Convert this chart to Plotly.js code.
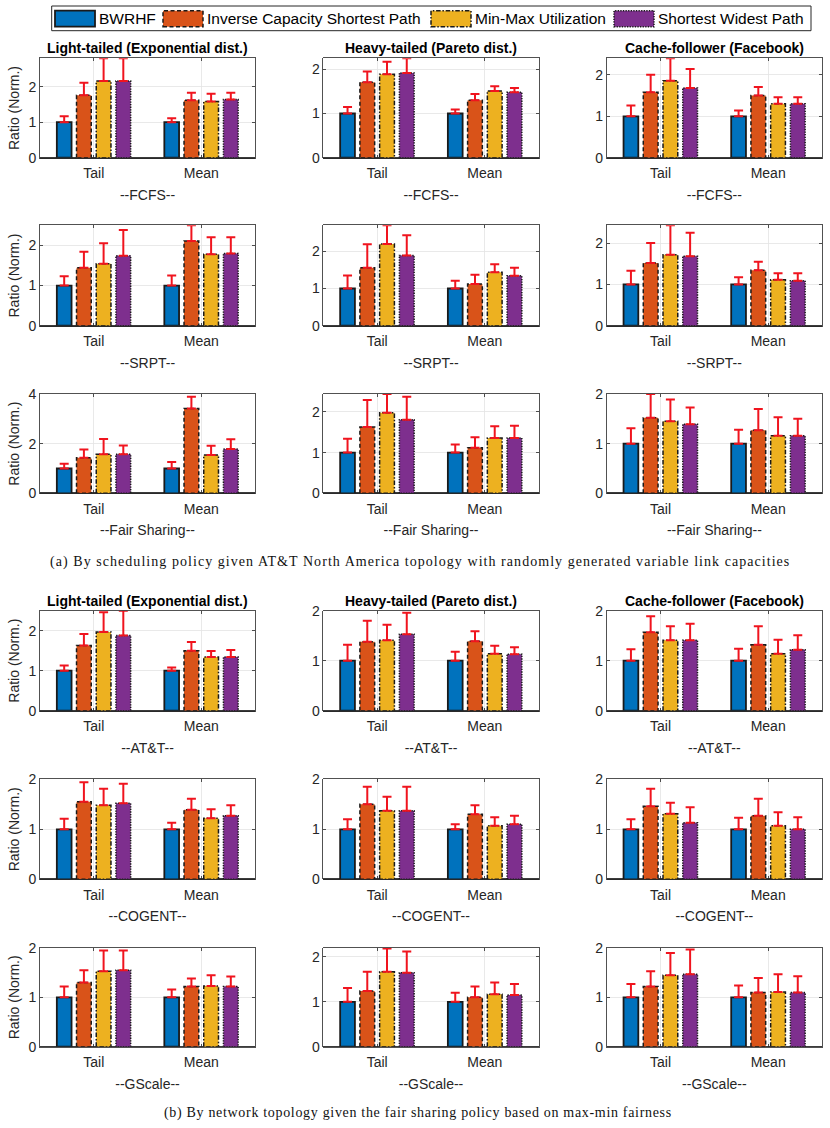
<!DOCTYPE html>
<html>
<head>
<meta charset="utf-8">
<script src="https://cdn.plot.ly/plotly-3.0.1.min.js"></script>
<style>
html, body { margin: 0; padding: 0; background: #ffffff; }
#chart { width: 830px; height: 1128px; }
</style>
</head>
<body>
<div id="chart"></div>
<script>
// ---------------- DATA ----------------
const categories = ['Tail', 'Mean'];
const seriesNames = ['BWRHF', 'Inverse Capacity Shortest Path', 'Min-Max Utilization', 'Shortest Widest Path'];
const columnTitles = ['Light-tailed (Exponential dist.)', 'Heavy-tailed (Pareto dist.)', 'Cache-follower (Facebook)'];
const rowLabelsA = ['--FCFS--', '--SRPT--', '--Fair Sharing--'];
const rowLabelsB = ['--AT&T--', '--COGENT--', '--GScale--'];
const captionA = '(a) By scheduling policy given AT&T North America topology with randomly generated variable link capacities';
const captionB = '(b) By network topology given the fair sharing policy based on max-min fairness';

// values: [series][Tail, Mean]; tops: upper end of the error bar
const fcfsLightVal = [[1.00, 1.00], [1.76, 1.62], [2.16, 1.58], [2.16, 1.64]];
const fcfsLightTop = [[1.17, 1.11], [2.11, 1.83], [2.80, 1.80], [2.80, 1.83]];
const fcfsHeavyVal = [[1.00, 1.00], [1.71, 1.30], [1.89, 1.51], [1.92, 1.48]];
const fcfsHeavyTop = [[1.15, 1.09], [1.95, 1.44], [2.17, 1.62], [2.25, 1.58]];
const fcfsCacheVal = [[1.00, 1.00], [1.58, 1.50], [1.86, 1.30], [1.68, 1.30]];
const fcfsCacheTop = [[1.26, 1.14], [2.00, 1.71], [2.40, 1.46], [2.14, 1.46]];

const srptLightVal = [[1.00, 1.00], [1.44, 2.11], [1.54, 1.78], [1.74, 1.80]];
const srptLightTop = [[1.23, 1.25], [1.84, 2.50], [2.05, 2.20], [2.38, 2.20]];
const srptHeavyVal = [[1.00, 1.00], [1.56, 1.12], [2.20, 1.44], [1.89, 1.34]];
const srptHeavyTop = [[1.35, 1.21], [2.19, 1.37], [2.70, 1.65], [2.43, 1.56]];
const srptCacheVal = [[1.00, 1.00], [1.52, 1.34], [1.72, 1.11], [1.68, 1.09]];
const srptCacheTop = [[1.33, 1.17], [2.00, 1.55], [2.43, 1.27], [2.25, 1.27]];

const fairLightVal = [[1.00, 1.00], [1.43, 3.42], [1.57, 1.54], [1.57, 1.78]];
const fairLightTop = [[1.19, 1.26], [1.76, 3.89], [2.19, 1.92], [1.93, 2.18]];
const fairHeavyVal = [[1.00, 1.00], [1.63, 1.12], [1.98, 1.36], [1.81, 1.36]];
const fairHeavyTop = [[1.34, 1.20], [2.29, 1.38], [2.44, 1.65], [2.37, 1.66]];
const fairCacheVal = [[1.00, 1.00], [1.52, 1.27], [1.45, 1.16], [1.39, 1.16]];
const fairCacheTop = [[1.31, 1.28], [2.00, 1.70], [1.89, 1.53], [1.73, 1.50]];

const attLightVal = [[1.00, 1.00], [1.63, 1.50], [1.97, 1.34], [1.88, 1.34]];
const attLightTop = [[1.13, 1.08], [1.92, 1.72], [2.46, 1.49], [2.50, 1.52]];
const attHeavyVal = [[1.00, 1.00], [1.38, 1.39], [1.41, 1.14], [1.53, 1.13]];
const attHeavyTop = [[1.32, 1.18], [1.80, 1.59], [1.72, 1.30], [1.96, 1.27]];
const attCacheVal = [[1.00, 1.00], [1.57, 1.32], [1.41, 1.14], [1.41, 1.22]];
const attCacheTop = [[1.23, 1.24], [1.89, 1.69], [1.69, 1.42], [1.74, 1.51]];

const cogentLightVal = [[1.00, 1.00], [1.55, 1.39], [1.48, 1.22], [1.52, 1.27]];
const cogentLightTop = [[1.21, 1.13], [1.94, 1.61], [1.81, 1.40], [1.91, 1.48]];
const cogentHeavyVal = [[1.00, 1.00], [1.50, 1.30], [1.37, 1.07], [1.37, 1.10]];
const cogentHeavyTop = [[1.20, 1.10], [1.85, 1.48], [1.65, 1.24], [1.85, 1.27]];
const cogentCacheVal = [[1.00, 1.00], [1.46, 1.27], [1.31, 1.07], [1.13, 1.00]];
const cogentCacheTop = [[1.20, 1.23], [1.81, 1.61], [1.53, 1.34], [1.44, 1.24]];

const gscaleLightVal = [[1.00, 1.00], [1.30, 1.22], [1.53, 1.23], [1.55, 1.22]];
const gscaleLightTop = [[1.22, 1.16], [1.55, 1.38], [1.95, 1.45], [1.95, 1.42]];
const gscaleHeavyVal = [[1.00, 1.00], [1.24, 1.10], [1.67, 1.17], [1.65, 1.15]];
const gscaleHeavyTop = [[1.31, 1.20], [1.67, 1.34], [2.19, 1.43], [2.12, 1.40]];
const gscaleCacheVal = [[1.00, 1.00], [1.22, 1.10], [1.45, 1.11], [1.47, 1.10]];
const gscaleCacheTop = [[1.27, 1.24], [1.53, 1.39], [1.90, 1.47], [1.97, 1.43]];

// ---------------- LAYOUT / STYLE ----------------
const W = 830, H = 1128;
const FONT = 'Liberation Sans, Arial, Helvetica, sans-serif';
const SERIF = 'Liberation Serif, Times New Roman, serif';
const AXC = '#262626';
const seriesColors = ['#0072BD', '#D95319', '#EDB120', '#7E2F8E'];
const edgeDash = ['solid', '4px,2.5px', '4.5px,1.8px,1.5px,1.8px', '1.3px,1.3px'];
const errColor = '#f0141e';

const rowLabels = rowLabelsA.concat(rowLabelsB);
const panelVals = [
  [fcfsLightVal, fcfsHeavyVal, fcfsCacheVal],
  [srptLightVal, srptHeavyVal, srptCacheVal],
  [fairLightVal, fairHeavyVal, fairCacheVal],
  [attLightVal, attHeavyVal, attCacheVal],
  [cogentLightVal, cogentHeavyVal, cogentCacheVal],
  [gscaleLightVal, gscaleHeavyVal, gscaleCacheVal]
];
const panelTops = [
  [fcfsLightTop, fcfsHeavyTop, fcfsCacheTop],
  [srptLightTop, srptHeavyTop, srptCacheTop],
  [fairLightTop, fairHeavyTop, fairCacheTop],
  [attLightTop, attHeavyTop, attCacheTop],
  [cogentLightTop, cogentHeavyTop, cogentCacheTop],
  [gscaleLightTop, gscaleHeavyTop, gscaleCacheTop]
];
const yMax = [[2.8, 2.25, 2.4], [2.5, 2.7, 2.43], [4, 2.44, 2], [2.5, 2, 2], [2, 2, 2], [2, 2.2, 2]];
const yDtick = [[1, 1, 1], [1, 1, 1], [2, 1, 1], [1, 1, 1], [1, 1, 1], [1, 1, 1]];

// pixel boxes of the plot areas
const colX = [[40, 255], [323.3, 538.7], [606.7, 822]];
const rowY = [[58.3, 157.7], [225.3, 325.7], [394, 493.3], [610.7, 710.7], [779.3, 879.3], [948, 1046.7]];
const titleY = [47.7, 600.7];

const SLOT = 0.1833, BARW = 0.137;
function barOffset(k) { return -2 * SLOT + k * SLOT + (SLOT - BARW) / 2; }
const catPos = categories.map((c, i) => i + 1);

const traces = [];
const layout = {
  width: W, height: H,
  margin: { l: 0, r: 0, t: 0, b: 0, autoexpand: false },
  paper_bgcolor: '#ffffff', plot_bgcolor: '#ffffff',
  showlegend: false, barmode: 'overlay',
  font: { family: FONT, size: 14, color: AXC },
  annotations: [], shapes: []
};

const axisCommon = {
  showline: true, linecolor: AXC, linewidth: 0.8, mirror: 'ticks',
  ticks: 'inside', ticklen: 3, tickwidth: 0.8, tickcolor: AXC,
  showgrid: true, gridcolor: '#e4e4e4', gridwidth: 0.8,
  tickfont: { family: FONT, size: 14, color: AXC },
  fixedrange: true
};

let idx = 0;
for (let r = 0; r < 6; r++) {
  for (let c = 0; c < 3; c++) {
    idx++;
    const xa = idx === 1 ? 'x' : 'x' + idx;
    const ya = idx === 1 ? 'y' : 'y' + idx;
    const xk = idx === 1 ? 'xaxis' : 'xaxis' + idx;
    const yk = idx === 1 ? 'yaxis' : 'yaxis' + idx;
    layout[xk] = Object.assign({}, axisCommon, {
      domain: [colX[c][0] / W, colX[c][1] / W], anchor: ya,
      range: [0.5, 2.5], tickvals: catPos, ticktext: categories, zeroline: false,
      ticklabelstandoff: 3,
      title: { text: rowLabels[r], font: { family: FONT, size: 14, color: AXC }, standoff: 9 }
    });
    layout[yk] = Object.assign({}, axisCommon, {
      domain: [1 - rowY[r][1] / H, 1 - rowY[r][0] / H], anchor: xa,
      range: [0, yMax[r][c]], dtick: yDtick[r][c], tick0: 0,
      zeroline: true, zerolinecolor: '#3c3c3c', zerolinewidth: 1.6
    });
    if (c === 0) {
      layout[yk].title = { text: 'Ratio (Norm.)', font: { family: FONT, size: 14, color: AXC }, standoff: 5 };
    }
    const vals = panelVals[r][c], tops = panelTops[r][c];
    // bars
    for (let k = 0; k < 4; k++) {
      traces.push({
        type: 'bar', name: seriesNames[k], x: catPos, y: vals[k],
        xaxis: xa, yaxis: ya, offset: barOffset(k), width: BARW,
        marker: { color: seriesColors[k], line: k === 0 ? { color: '#1a1a1a', width: 1.8 } : { width: 0 } },
        hoverinfo: 'name+y'
      });
    }
    // dashed edges
    for (let k = 1; k < 4; k++) {
      const ex = [], ey = [];
      catPos.forEach((p, j) => {
        const x0 = p + barOffset(k), x1 = x0 + BARW, v = vals[k][j];
        ex.push(x0, x0, x1, x1, x0, null);
        ey.push(0, v, v, 0, 0, null);
      });
      traces.push({
        type: 'scatter', mode: 'lines', x: ex, y: ey, xaxis: xa, yaxis: ya,
        line: { color: '#1a1a1a', width: 1.5, dash: edgeDash[k] },
        hoverinfo: 'skip', cliponaxis: false
      });
    }
    // error bars (upper only)
    for (let k = 0; k < 4; k++) {
      traces.push({
        type: 'scatter', mode: 'markers',
        x: catPos.map(p => p + barOffset(k) + BARW / 2), y: vals[k],
        xaxis: xa, yaxis: ya, cliponaxis: false,
        marker: { size: 2, opacity: 0 },
        error_y: {
          type: 'data', symmetric: false,
          array: tops[k].map((t, j) => t - vals[k][j]), arrayminus: [0, 0],
          color: errColor, thickness: 2, width: 4.5
        },
        hoverinfo: 'skip'
      });
    }
  }
}

// column titles
[0, 1].forEach(g => {
  columnTitles.forEach((t, c) => {
    layout.annotations.push({
      xref: 'paper', yref: 'paper', x: (colX[c][0] + colX[c][1]) / 2 / W, y: 1 - titleY[g] / H,
      xanchor: 'center', yanchor: 'middle', showarrow: false,
      text: '<b>' + t + '</b>', font: { family: FONT, size: 14, color: '#000000' }
    });
  });
});

// captions
function caption(text, px, py, spacing) {
  layout.annotations.push({
    xref: 'paper', yref: 'paper', x: px / W, y: 1 - py / H, xanchor: 'center', yanchor: 'middle',
    showarrow: false, text: '<span style="letter-spacing:' + spacing + 'px">' + text.replace(/&/g, '&amp;') + '</span>',
    font: { family: SERIF, size: 14, color: '#111111' }
  });
}
caption(captionA, 419.5, 561.7, 1.05);
caption(captionB, 418, 1113, 0.68);

// legend (drawn as box + swatches + labels)
layout.shapes.push({
  type: 'rect', xref: 'paper', yref: 'paper',
  x0: 51.7 / W, x1: 811 / W, y0: 1 - 30.7 / H, y1: 1 - 6 / H,
  line: { color: AXC, width: 1 }, fillcolor: '#ffffff', layer: 'above'
});
const swX = [55, 163, 431, 614];
seriesNames.forEach((n, k) => {
  layout.shapes.push({
    type: 'rect', xref: 'paper', yref: 'paper',
    x0: swX[k] / W, x1: (swX[k] + 40) / W, y0: 1 - 26.7 / H, y1: 1 - 10.7 / H,
    line: { color: '#1a1a1a', width: k === 0 ? 1.8 : 1.5, dash: edgeDash[k] },
    fillcolor: seriesColors[k], layer: 'above'
  });
  layout.annotations.push({
    xref: 'paper', yref: 'paper', x: (swX[k] + 42) / W, y: 1 - 18.7 / H,
    xanchor: 'left', yanchor: 'middle', showarrow: false,
    text: n, font: { family: FONT, size: 15.5, color: '#000000' }
  });
});

Plotly.newPlot('chart', traces, layout, { staticPlot: true, displayModeBar: false });
</script>
</body>
</html>
